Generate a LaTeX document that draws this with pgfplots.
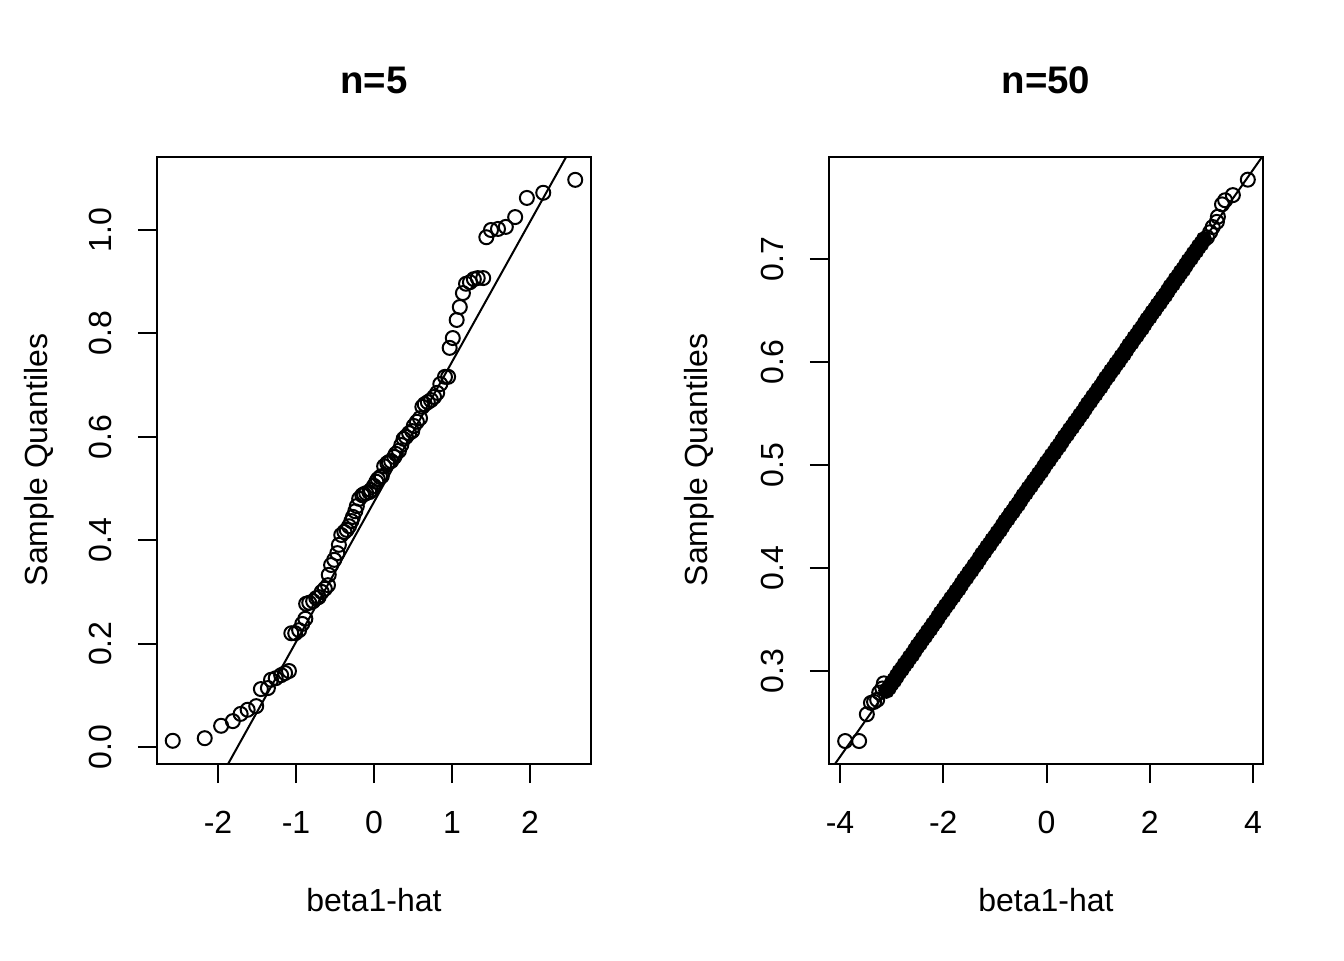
\documentclass[border=0pt]{standalone}
\usepackage{fontspec}
\setmainfont{Liberation Sans}
\usepackage{pgfplots}
\pgfplotsset{compat=1.18}

% R-like qq panel: box, outside ticks on bottom/left, rotated y labels
\pgfplotsset{rqq/.style={
  scale only axis, width=217pt, height=303.5pt, anchor=south west,
  axis line style={line width=1pt, black},
  tick align=outside, major tick length=9.6pt,
  xtick pos=left, ytick pos=left,
  tick style={line width=1pt, black},
  tick label style={font=\fontsize{16}{19}\selectfont},
  xticklabel style={anchor=north, inner sep=0pt},
  yticklabel style={rotate=90, anchor=south, inner sep=0pt},
  xticklabel shift=14pt, yticklabel shift=13pt,
  clip=true,
}}

\begin{document}
\begin{tikzpicture}
\useasboundingbox (0,0) rectangle (672pt,480pt);

% ---- n=5 ----
\begin{axis}[rqq, at={(78.5pt,98pt)},
  xmin=-2.782, xmax=2.782, ymin=-0.0329, ymax=1.1412,
  xtick={-2,-1,0,1,2}, xticklabels={-2,-1,0,1,2},
  ytick={0,0.2,0.4,0.6,0.8,1.0}, yticklabels={0.0,0.2,0.4,0.6,0.8,1.0}]
\addplot[only marks, mark=o, mark size=3.5pt, mark options={line width=1pt}] coordinates {
(-2.58,0.012) (-2.17,0.017) (-1.96,0.041) (-1.81,0.050) (-1.71,0.064)
(-1.62,0.072) (-1.51,0.079) (-1.45,0.112) (-1.36,0.114) (-1.32,0.130)
(-1.26,0.133) (-1.19,0.139) (-1.14,0.143) (-1.09,0.147) (-1.06,0.220)
(-1.01,0.220) (-0.96,0.226) (-0.92,0.238) (-0.88,0.248) (-0.87,0.277)
(-0.83,0.279) (-0.78,0.282) (-0.74,0.288) (-0.71,0.290) (-0.67,0.300)
(-0.63,0.306) (-0.59,0.313) (-0.58,0.333) (-0.55,0.352) (-0.51,0.362)
(-0.47,0.375) (-0.45,0.391) (-0.42,0.410) (-0.38,0.416) (-0.35,0.420)
(-0.32,0.427) (-0.29,0.437) (-0.27,0.445) (-0.24,0.456) (-0.22,0.466)
(-0.19,0.480) (-0.15,0.487) (-0.13,0.489) (-0.10,0.491) (-0.06,0.493)
(-0.04,0.497) (0.00,0.505) (0.03,0.513) (0.05,0.518) (0.08,0.522)
(0.10,0.524) (0.13,0.543) (0.17,0.549) (0.19,0.551) (0.22,0.553)
(0.26,0.561) (0.28,0.567) (0.32,0.573) (0.35,0.584) (0.38,0.596)
(0.41,0.600) (0.45,0.607) (0.49,0.611) (0.51,0.621) (0.55,0.629)
(0.59,0.636) (0.62,0.658) (0.65,0.663) (0.69,0.667) (0.73,0.671)
(0.77,0.677) (0.81,0.685) (0.85,0.702) (0.91,0.716) (0.95,0.716)
(0.97,0.772) (1.01,0.791) (1.06,0.826) (1.10,0.851) (1.14,0.878)
(1.18,0.896) (1.23,0.899) (1.28,0.905) (1.33,0.907) (1.40,0.907)
(1.44,0.986) (1.50,1.000) (1.59,1.002) (1.69,1.006) (1.81,1.025)
(1.96,1.062) (2.17,1.072) (2.58,1.097)
};
\addplot[line width=1pt, black] coordinates {(-2.8,-0.2845) (2.8,1.2325)};
\end{axis}

% ---- n=50 ----
\begin{axis}[rqq, at={(414.5pt,98pt)},
  xmin=-4.213, xmax=4.194, ymin=0.2097, ymax=0.799,
  xtick={-4,-2,0,2,4}, xticklabels={-4,-2,0,2,4},
  ytick={0.3,0.4,0.5,0.6,0.7}, yticklabels={0.3,0.4,0.5,0.6,0.7}]
% tails
\addplot[only marks, mark=o, mark size=3.5pt, mark options={line width=1pt}] coordinates {
(-3.90,0.232) (-3.63,0.232) (-3.48,0.258) (-3.40,0.269) (-3.34,0.270)
(-3.28,0.272) (-3.24,0.279) (-3.18,0.283) (-3.15,0.288)
(3.11,0.721) (3.17,0.726) (3.22,0.731) (3.30,0.736) (3.32,0.741)
(3.40,0.753) (3.46,0.757) (3.61,0.762) (3.90,0.777)
};
% dense core of the sample (overlapping circles)
\addplot[only marks, mark=o, mark size=2.7pt, mark options={line width=2.8pt}] table {
x y
-3.10 0.281
-3.05 0.284
-3.00 0.288
-2.95 0.291
-2.90 0.295
-2.85 0.299
-2.80 0.302
-2.75 0.306
-2.70 0.309
-2.65 0.313
-2.60 0.316
-2.55 0.320
-2.50 0.324
-2.45 0.327
-2.40 0.331
-2.35 0.334
-2.30 0.338
-2.25 0.341
-2.20 0.345
-2.15 0.348
-2.10 0.352
-2.05 0.356
-2.00 0.359
-1.95 0.363
-1.90 0.366
-1.85 0.370
-1.80 0.373
-1.75 0.377
-1.70 0.380
-1.65 0.384
-1.60 0.388
-1.55 0.391
-1.50 0.395
-1.45 0.398
-1.40 0.402
-1.35 0.405
-1.30 0.409
-1.25 0.413
-1.20 0.416
-1.15 0.420
-1.10 0.423
-1.05 0.427
-1.00 0.430
-0.95 0.434
-0.90 0.437
-0.85 0.441
-0.80 0.445
-0.75 0.448
-0.70 0.452
-0.65 0.455
-0.60 0.459
-0.55 0.462
-0.50 0.466
-0.45 0.470
-0.40 0.473
-0.35 0.477
-0.30 0.480
-0.25 0.484
-0.20 0.487
-0.15 0.491
-0.10 0.494
-0.05 0.498
0.00 0.502
0.05 0.505
0.10 0.509
0.15 0.512
0.20 0.516
0.25 0.519
0.30 0.523
0.35 0.527
0.40 0.530
0.45 0.534
0.50 0.537
0.55 0.541
0.60 0.544
0.65 0.548
0.70 0.551
0.75 0.555
0.80 0.559
0.85 0.562
0.90 0.566
0.95 0.569
1.00 0.573
1.05 0.576
1.10 0.580
1.15 0.584
1.20 0.587
1.25 0.591
1.30 0.594
1.35 0.598
1.40 0.601
1.45 0.605
1.50 0.608
1.55 0.612
1.60 0.616
1.65 0.619
1.70 0.623
1.75 0.626
1.80 0.630
1.85 0.633
1.90 0.637
1.95 0.641
2.00 0.644
2.05 0.648
2.10 0.651
2.15 0.655
2.20 0.658
2.25 0.662
2.30 0.665
2.35 0.669
2.40 0.673
2.45 0.676
2.50 0.680
2.55 0.683
2.60 0.687
2.65 0.690
2.70 0.694
2.75 0.698
2.80 0.701
2.85 0.705
2.90 0.708
2.95 0.712
3.00 0.715
3.05 0.719
};
\addplot[line width=1pt, black] coordinates {(-4.3,0.1953) (4.3,0.8079)};
\end{axis}

% titles and axis labels
\node[font=\bfseries\fontsize{19.2}{23}\selectfont, inner sep=0pt] at (187pt,440pt) {n=5};
\node[font=\bfseries\fontsize{19.2}{23}\selectfont, inner sep=0pt] at (523pt,440pt) {n=50};
\node[font=\fontsize{16}{19}\selectfont, inner sep=0pt] at (187pt,30pt) {beta1-hat};
\node[font=\fontsize{16}{19}\selectfont, inner sep=0pt] at (523pt,30pt) {beta1-hat};
\node[font=\fontsize{16}{19}\selectfont, inner sep=0pt, rotate=90] at (19.5pt,250pt) {Sample Quantiles};
\node[font=\fontsize{16}{19}\selectfont, inner sep=0pt, rotate=90] at (349.5pt,250pt) {Sample Quantiles};
\end{tikzpicture}
\end{document}
